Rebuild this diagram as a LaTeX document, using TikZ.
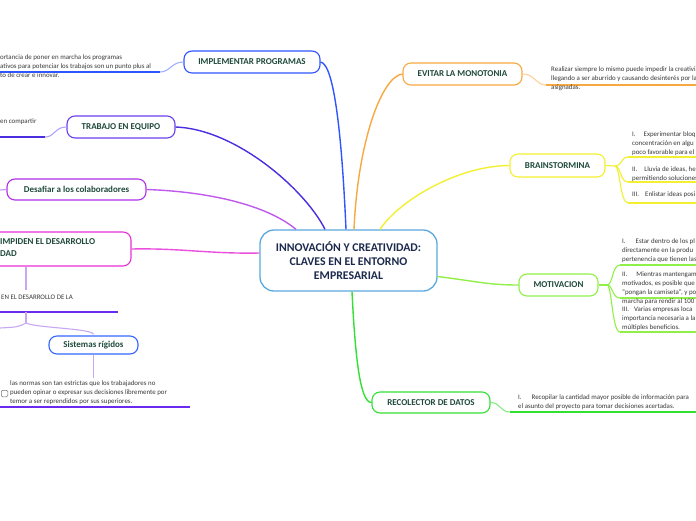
\documentclass[tikz,border=0pt]{standalone}
\usepackage{fontspec}
\setmainfont{Carlito}
\definecolor{lab}{HTML}{1F4A3B}
\definecolor{ctext}{HTML}{1C2A4E}
\definecolor{stext}{HTML}{383838}
\definecolor{cCen}{HTML}{5AA8DD}
\definecolor{cImpl}{HTML}{2F55FF}
\definecolor{cImplL}{HTML}{A0B0FF}
\definecolor{cTrab}{HTML}{6A40F0}
\definecolor{cTrabC}{HTML}{4A2EE0}
\definecolor{cTrabL}{HTML}{AFA4FF}
\definecolor{cDesa}{HTML}{B030E8}
\definecolor{cDesaL}{HTML}{C890F0}
\definecolor{cImpi}{HTML}{E830D8}
\definecolor{cLav}{HTML}{C8A8F5}
\definecolor{cViol}{HTML}{6A2AF0}
\definecolor{cSist}{HTML}{3366FF}
\definecolor{cEvit}{HTML}{F8A840}
\definecolor{cEvitL}{HTML}{FCD39A}
\definecolor{cBrain}{HTML}{F2F030}
\definecolor{cMoti}{HTML}{90F048}
\definecolor{cReco}{HTML}{34E034}
\tikzset{
  bx/.style={draw, fill=white, rounded corners=8pt, line width=1.1pt, inner sep=0pt,
    text=lab, font=\fontsize{9}{12}\selectfont\bfseries, align=center},
  st/.style={inner sep=0pt, text=stext, font=\fontsize{6.9}{9}\selectfont, align=left, anchor=west},
  con/.style={line width=1.4pt},
  ul/.style={line width=1.7pt},
  thin/.style={line width=1.1pt}
}
\begin{document}
\begin{tikzpicture}[x=1pt,y=-1pt]
\useasboundingbox (0,0) rectangle (696,520);
\fill[white] (0,0) rectangle (696,520);

% nodes
\node[draw=cCen, fill=white, rounded corners=14pt, line width=1.3pt, minimum width=177pt,
  minimum height=61pt, inner sep=0pt, text=ctext, font=\fontsize{11.8}{14}\selectfont\bfseries,
  align=center] (cen) at (348.5,260.5) {INNOVACIÓN Y CREATIVIDAD:\\CLAVES EN EL ENTORNO\\EMPRESARIAL};

\node[bx, draw=cImpl, minimum width=136pt, minimum height=22pt] (impl) at (252,62) {IMPLEMENTAR PROGRAMAS};
\node[bx, draw=cTrab, minimum width=108pt, minimum height=22pt] (trab) at (121,127) {TRABAJO EN EQUIPO};
\node[bx, draw=cDesa, minimum width=139pt, minimum height=21pt] (desa) at (76.5,189.5) {Desafiar a los colaboradores};
\node[bx, draw=cImpi, minimum width=170pt, minimum height=34pt] (impi) at (46,249) {};
\node[inner sep=0pt, anchor=west, text=lab, font=\fontsize{9}{12}\selectfont\bfseries, align=left] (impit) at (0,248) {IMPIDEN EL DESARROLLO\\DAD};
\node[bx, draw=cSist, minimum width=89pt, minimum height=18pt] (sist) at (93.5,345) {Sistemas rígidos};

\node[bx, draw=cEvit, minimum width=119pt, minimum height=22pt] (evit) at (462.5,74) {EVITAR LA MONOTONIA};
\node[bx, draw=cBrain, minimum width=95pt, minimum height=23pt] (brain) at (557.5,165.5) {BRAINSTORMINA};
\node[bx, draw=cMoti, minimum width=79pt, minimum height=22pt] (moti) at (558.5,285) {MOTIVACION};
\node[bx, draw=cReco, minimum width=118pt, minimum height=21pt] (reco) at (431,402.5) {RECOLECTOR DE DATOS};

% main connectors
\draw[con, cImpl] (impl.east) .. controls +(14,2) and +(-4,-90) .. ([xshift=-2.5pt]cen.north);
\draw[con, cTrabC] (trab.east) .. controls +(60,2) and +(-20,-40) .. ([xshift=-23.5pt]cen.north);
\draw[con, cDesa!80!white] (desa.east) .. controls +(60,2) and +(-30,-25) .. ([xshift=-52.5pt]cen.north);
\draw[con, cImpi!85!white] (impi.east) .. controls +(50,-1) and +(-50,1) .. ([yshift=7.5pt]cen.west);
\draw[con, cEvit] (evit.west) .. controls +(-20,2) and +(4,-90) .. ([xshift=5.5pt]cen.north);
\draw[con, cBrain] (brain.west) .. controls +(-50,0) and +(20,-30) .. ([xshift=31.5pt]cen.north);
\draw[con, cMoti] ([yshift=-16pt]cen.east) .. controls +(40,5) and +(-30,0) .. (moti.west);
\draw[con, cReco] ([xshift=3.5pt]cen.south) .. controls +(3,60) and +(-12,0) .. (reco.west);

% coordinates for leaf lines
\coordinate (iu) at (160,72);   \coordinate (ie) at (0,72);
\coordinate (tu) at (45,137);   \coordinate (te) at (0,137);
\coordinate (de) at (0,190);
\coordinate (eu) at (546,85);   \coordinate (ee) at (696,85);
\coordinate (ru) at (510,412);  \coordinate (re) at (696,412);

\draw[thin, cImplL] (impl.west) .. controls +(-12,0) and +(10,0) .. (iu);
\draw[ul, cImpl] (iu) -- (ie);
\draw[thin, cTrabL] (trab.west) .. controls +(-12,0) and +(10,0) .. (tu);
\draw[ul, cTrabC] (tu) -- (te);
\draw[thin, cDesaL] (desa.west) -- (de);
\draw[thin, cEvitL] (evit.east) .. controls +(12,0) and +(-10,0) .. (eu);
\draw[ul, cEvit] (eu) -- (ee);
\draw[thin, cReco!60!white] (reco.east) .. controls +(10,0) and +(-10,0) .. (ru);
\draw[ul, cReco] (ru) -- (re);

% brainstorm branches
\coordinate (bj) at (615,166);
\coordinate (b1) at (628,157); \coordinate (b1e) at (696,157);
\coordinate (b2) at (628,182); \coordinate (b2e) at (696,182);
\coordinate (b3) at (628,203); \coordinate (b3e) at (696,203);
\draw[thin, cBrain] (brain.east) -- (bj);
\draw[thin, cBrain] (bj) .. controls +(7,0) and +(-7,0) .. (b1);
\draw[thin, cBrain] (bj) .. controls +(6,0) and +(-8,0) .. (b2);
\draw[thin, cBrain] (bj) .. controls +(5,0) and +(-8,0) .. (b3);
\draw[ul, cBrain] (b1) -- (b1e);
\draw[ul, cBrain] (b2) -- (b2e);
\draw[ul, cBrain] (b3) -- (b3e);

% motivation branches
\coordinate (mj) at (607,285);
\coordinate (m1) at (620,265); \coordinate (m1e) at (696,265);
\coordinate (m2) at (620,298); \coordinate (m2e) at (696,298);
\coordinate (m3) at (620,332); \coordinate (m3e) at (696,332);
\draw[thin, cMoti] (moti.east) -- (mj);
\draw[thin, cMoti] (mj) .. controls +(6,0) and +(-8,0) .. (m1);
\draw[thin, cMoti] (mj) .. controls +(6,0) and +(-8,0) .. (m2);
\draw[thin, cMoti] (mj) .. controls +(5,0) and +(-8,0) .. (m3);
\draw[ul, cMoti] (m1) -- (m1e);
\draw[ul, cMoti] (m2) -- (m2e);
\draw[ul, cMoti] (m3) -- (m3e);

% impiden tree
\coordinate (p1) at (26,290);
\coordinate (pu) at (26,312); \coordinate (pl) at (0,312); \coordinate (pr) at (118,312);
\coordinate (pj) at (26,323);
\coordinate (pleft) at (0,328);
\draw[thin, cLav] (impi.south -| p1) -- (p1);
\draw[ul, cViol] (pl) -- (pr);
\draw[thin, cLav] (pu) -- (pj);
\draw[thin, cLav] (pj) .. controls +(-8,4) .. (pleft);
\draw[thin, cLav] (pj) .. controls +(10,5) and +(0,-6) .. ([yshift=1pt]sist.north);
\coordinate (s1) at (93.5,378);
\draw[thin, cLav] (sist.south) -- (s1);
\coordinate (sl) at (0,407); \coordinate (sr) at (190,407);
\draw[ul, cViol] (sl) -- (sr);
\node[draw=stext!70, line width=0.5pt, rounded corners=1.2pt, minimum size=6.5pt, inner sep=0pt] (chk) at (4.5,393.5) {};

% texts
\node[st] (t1) at (0,66.5) {ortancia de poner en marcha los programas\\ativos para potenciar los trabajos son un punto plus al\\to de crear e innovar.};
\node[st] (t2) at (0,122) {en compartir};
\node[st] (t3) at (1,297) {EN EL DESARROLLO DE LA};
\node[st] (t4) at (10,393) {las normas son tan estrictas que los trabajadores no\\pueden opinar o expresar sus decisiones libremente por\\temor a ser reprendidos por sus superiores.};
\node[st] (t5) at (551,78.5) {Realizar siempre lo mismo puede impedir la creativi\\llegando a ser aburrido y causando desinterés por la\\asignadas.};
\node[st] (t6) at (632,143.5) {I.\hspace{8pt}Experimentar bloq\\concentración en algu\\poco favorable para el};
\node[st] (t7) at (632,174) {II.\hspace{7pt}Lluvia de ideas, he\\permitiendo soluciones};
\node[st] (t8) at (632,195) {III.\hspace{6pt}Enlistar ideas posi};
\node[st] (t9) at (622,251) {I.\hspace{10pt}Estar dentro de los pl\\directamente en la produ\\pertenencia que tienen las};
\node[st] (t10) at (622,288.5) {II.\hspace{9pt}Mientras mantengam\\motivados, es posible que\\“pongan la camiseta”, y po\\marcha para rendir al 100};
\node[st] (t11) at (622,318.5) {III.\hspace{5pt}Varias empresas loca\\importancia necesaria a la\\múltiples beneficios.};
\node[st] (t12) at (518,402.5) {I.\hspace{10pt}Recopilar la cantidad mayor posible de información para\\el asunto del proyecto para tomar decisiones acertadas.};
\end{tikzpicture}
\end{document}
